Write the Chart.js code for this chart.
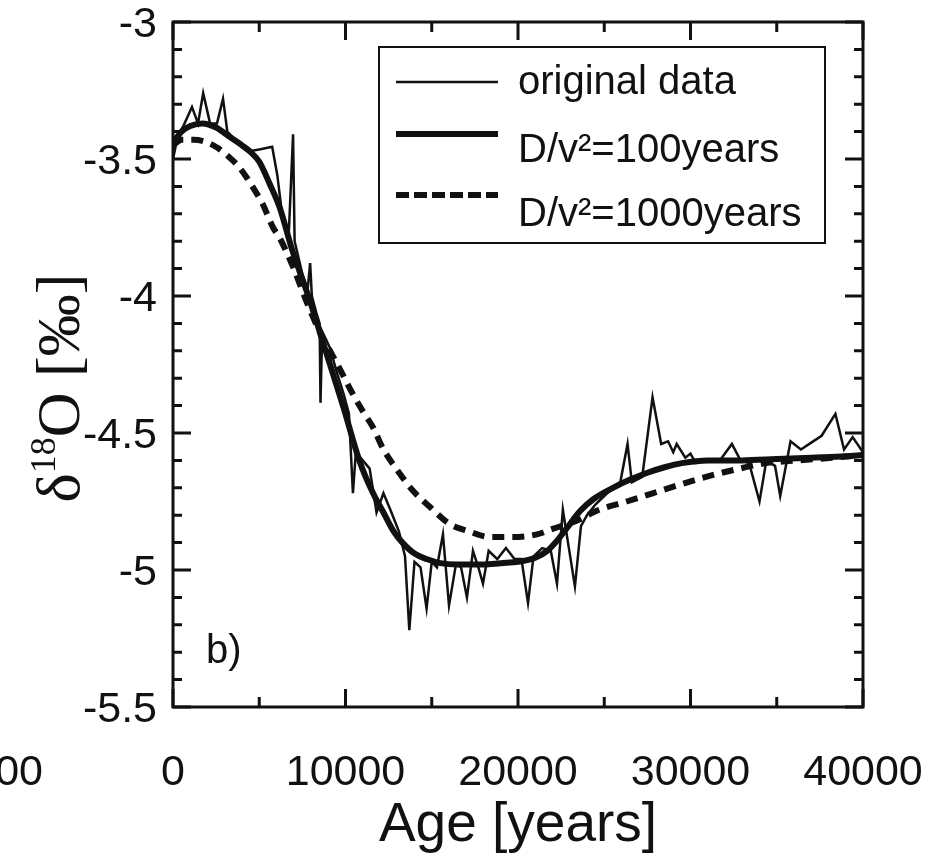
<!DOCTYPE html>
<html>
<head>
<meta charset="utf-8">
<script src="https://cdn.jsdelivr.net/npm/chart.js@4.4.1/dist/chart.umd.min.js"></script>
<style>
  html, body { margin: 0; padding: 0; background: #fff; }
  #wrap { width: 941px; height: 857px; }
</style>
</head>
<body>
<div id="wrap"><canvas id="chart" width="941" height="857"></canvas></div>
<script>
// original data (thin line)
const ageOrig = [0, 300, 600, 1100, 1450, 1750, 2150, 2550, 2900, 3150, 3600, 4100, 4600, 5000, 5750,
  6050, 6300, 6700, 6960, 7050, 7500, 7800, 7950, 8050, 8300, 8500, 8550, 8650, 9100, 9500, 9900,
  10200, 10430, 10600, 11000, 11400, 11800, 12200, 12600, 13100, 13450, 13700, 14000, 14350, 14700,
  15000, 15300, 15650, 16000, 16400, 16700, 17040, 17390, 17700, 17970, 18300, 18800, 19300, 19800,
  20200, 20580, 20900, 21400, 21900, 22260, 22600, 22950, 23300, 23650, 24000, 24500, 25000, 25500,
  25900, 26350, 26600, 27200, 27800, 28300, 28700, 29000, 29200, 29700, 30000, 30300, 31000, 31700,
  32400, 32900, 33400, 34000, 34400, 34900, 35200, 35800, 36400, 37000, 37600, 38400, 38900, 39400, 40000];
const d18Orig = [-3.50, -3.41, -3.38, -3.31, -3.37, -3.26, -3.37, -3.37, -3.28, -3.40, -3.43, -3.45, -3.47, -3.465, -3.455,
  -3.56, -3.69, -3.79, -3.41, -3.80, -3.92, -3.98, -3.88, -4.00, -4.06, -4.10, -4.39, -4.13, -4.19, -4.28, -4.36,
  -4.43, -4.72, -4.57, -4.60, -4.63, -4.79, -4.72, -4.78, -4.86, -4.95, -5.22, -4.97, -4.99, -5.14,
  -4.97, -4.99, -4.87, -5.13, -4.98, -4.99, -5.10, -4.93, -4.99, -5.05, -4.93, -4.96, -4.92, -4.96,
  -4.96, -5.12, -4.95, -4.92, -4.93, -5.05, -4.78, -4.92, -5.06, -4.84, -4.80, -4.76, -4.73, -4.70,
  -4.69, -4.54, -4.68, -4.66, -4.37, -4.54, -4.53, -4.57, -4.54, -4.59, -4.575, -4.61, -4.60, -4.60,
  -4.54, -4.60, -4.61, -4.75, -4.60, -4.62, -4.73, -4.53, -4.56, -4.535, -4.51, -4.43, -4.56, -4.515, -4.57];

// D/v2 = 100 years (thick solid)
const ageD100 = [0, 500, 1000, 1700, 2500, 3300, 4000, 4500, 5000, 5600, 6200, 6900, 7900, 8900, 9900,
  10800, 11600, 12200, 12800, 13300, 14000, 14700, 15500, 16500, 18000, 19000, 20000, 21000, 21700,
  22300, 22800, 23600, 24400, 25500, 26500, 27500, 28500, 29500, 31000, 33000, 35000, 37000, 39000, 40000];
const d18D100 = [-3.44, -3.40, -3.38, -3.37, -3.385, -3.42, -3.45, -3.475, -3.51, -3.59, -3.68, -3.83, -4.01, -4.21, -4.41,
  -4.60, -4.72, -4.79, -4.86, -4.90, -4.94, -4.96, -4.975, -4.98, -4.98, -4.975, -4.97, -4.955, -4.93,
  -4.89, -4.85, -4.785, -4.74, -4.70, -4.67, -4.645, -4.625, -4.61, -4.60, -4.60, -4.595, -4.59, -4.585, -4.58];

// D/v2 = 1000 years (thick dashed)
const ageD1000 = [0, 500, 1200, 2000, 2600, 3200, 3700, 4300, 4600, 5200, 5800, 6200, 7000, 7800, 8500,
  9100, 9700, 10400, 11000, 11600, 12200, 13000, 13900, 14900, 16000, 17200, 18400, 19700, 21100,
  22000, 23400, 24700, 26300, 27800, 29300, 30900, 32500, 34400, 36300, 38300, 40000];
const d18D1000 = [-3.45, -3.43, -3.43, -3.44, -3.46, -3.49, -3.52, -3.57, -3.60, -3.665, -3.75, -3.79, -3.90, -4.03, -4.13,
  -4.20, -4.27, -4.355, -4.42, -4.48, -4.56, -4.635, -4.71, -4.77, -4.83, -4.86, -4.88, -4.88, -4.87,
  -4.85, -4.82, -4.78, -4.75, -4.72, -4.69, -4.66, -4.635, -4.61, -4.60, -4.59, -4.58];

const seriesLabels = ['original data', 'D/v\u00B2=100years', 'D/v\u00B2=1000years'];
const xTicks = [0, 10000, 20000, 30000, 40000];
const yTicks = [-5.5, -5, -4.5, -4, -3.5, -3];

const toPoints = (xs, ys) => xs.map((a, i) => ({ x: a, y: ys[i] }));

Chart.defaults.font.family = "'Liberation Sans', Arial, sans-serif";
Chart.defaults.color = '#111';

// frame + inward ticks on all four sides
const frameTicks = {
  id: 'frameTicks',
  afterDatasetsDraw(chart) {
    const { ctx, chartArea: a, scales: { x, y } } = chart;
    ctx.save();
    ctx.strokeStyle = '#111';
    ctx.lineWidth = 3;
    ctx.strokeRect(a.left, a.top, a.right - a.left, a.bottom - a.top);
    ctx.beginPath();
    for (let v = 0; v <= 40000; v += 5000) {
      const px = x.getPixelForValue(v);
      const len = v % 10000 === 0 ? 18 : 10;
      ctx.moveTo(px, a.bottom); ctx.lineTo(px, a.bottom - len);
      ctx.moveTo(px, a.top); ctx.lineTo(px, a.top + len);
    }
    for (let i = 0; i <= 25; i++) {
      const py = y.getPixelForValue(-5.5 + i * 0.1);
      const len = i % 5 === 0 ? 18 : 9;
      ctx.moveTo(a.left, py); ctx.lineTo(a.left + len, py);
      ctx.moveTo(a.right, py); ctx.lineTo(a.right - len, py);
    }
    ctx.stroke();
    ctx.restore();
  }
};

// boxed legend inside the plot, top right
const boxLegend = {
  id: 'boxLegend',
  afterDraw(chart) {
    const ctx = chart.ctx;
    const rows = [{ ly: 82, ty: 94 }, { ly: 134, ty: 162 }, { ly: 195, ty: 226 }];
    ctx.save();
    ctx.fillStyle = '#fff';
    ctx.fillRect(379, 47, 446, 196);
    ctx.strokeStyle = '#111';
    ctx.lineWidth = 2;
    ctx.strokeRect(379, 47, 446, 196);
    chart.data.datasets.forEach((ds, i) => {
      const r = rows[i];
      ctx.beginPath();
      ctx.lineWidth = ds.borderWidth;
      ctx.setLineDash(ds.borderDash ? [13, 5] : []);
      ctx.moveTo(396, r.ly);
      ctx.lineTo(498, r.ly);
      ctx.stroke();
      ctx.setLineDash([]);
      ctx.fillStyle = '#111';
      ctx.font = "40px 'Liberation Sans', Arial, sans-serif";
      ctx.textAlign = 'left';
      ctx.textBaseline = 'alphabetic';
      ctx.fillText(ds.label, 518, r.ty);
    });
    ctx.restore();
  }
};

// y axis title with superscript, panel tag and clipped neighbour label
const extraText = {
  id: 'extraText',
  afterDraw(chart) {
    const ctx = chart.ctx;
    ctx.save();
    ctx.fillStyle = '#111';
    const big = "62px 'Liberation Serif', 'Times New Roman', serif";
    const small = "36px 'Liberation Serif', 'Times New Roman', serif";
    const parts = [['\u03B4', big, 0], ['18', small, -24], ['O [\u2030]', big, 0]];
    let total = 0;
    parts.forEach(p => { ctx.font = p[1]; total += ctx.measureText(p[0]).width; });
    ctx.translate(79, 388);
    ctx.rotate(-Math.PI / 2);
    ctx.textBaseline = 'alphabetic';
    ctx.textAlign = 'left';
    let cx = -total / 2;
    parts.forEach(p => {
      ctx.font = p[1];
      ctx.fillText(p[0], cx, p[2]);
      cx += ctx.measureText(p[0]).width;
    });
    ctx.setTransform(1, 0, 0, 1, 0, 0);
    ctx.font = "40px 'Liberation Sans', Arial, sans-serif";
    ctx.fillText('b)', 206, 663);
    ctx.font = "43px 'Liberation Sans', Arial, sans-serif";
    ctx.textAlign = 'right';
    ctx.textBaseline = 'middle';
    ctx.fillText('40000', 43, 773);
    ctx.restore();
  }
};

new Chart(document.getElementById('chart'), {
  type: 'line',
  data: {
    datasets: [
      {
        label: seriesLabels[0],
        data: toPoints(ageOrig, d18Orig),
        borderColor: '#111',
        borderWidth: 2.5,
        pointRadius: 0,
        tension: 0
      },
      {
        label: seriesLabels[1],
        data: toPoints(ageD100, d18D100),
        borderColor: '#111',
        borderWidth: 6,
        pointRadius: 0,
        cubicInterpolationMode: 'monotone'
      },
      {
        label: seriesLabels[2],
        data: toPoints(ageD1000, d18D1000),
        borderColor: '#111',
        borderWidth: 6,
        borderDash: [12, 8],
        pointRadius: 0,
        cubicInterpolationMode: 'monotone'
      }
    ]
  },
  options: {
    responsive: false,
    animation: false,
    layout: { padding: { top: 22, right: 78, bottom: 0, left: 0 } },
    plugins: {
      legend: { display: false },
      tooltip: { enabled: false }
    },
    scales: {
      x: {
        type: 'linear',
        min: 0,
        max: 40000,
        // tickLength only spaces the labels; the visible ticks come from frameTicks
        grid: { display: false, drawTicks: true, tickLength: 45 },
        border: { display: false },
        afterBuildTicks: s => { s.ticks = xTicks.map(v => ({ value: v })); },
        afterFit: s => { s.height = 150; },
        ticks: {
          padding: 0,
          maxRotation: 0,
          font: { size: 43, lineHeight: 1 },
          color: '#111',
          callback: v => String(v)
        },
        title: {
          display: true,
          text: 'Age [years]',
          font: { size: 55, lineHeight: 1 },
          color: '#111',
          padding: { top: 0, bottom: 4 }
        }
      },
      y: {
        type: 'linear',
        min: -5.5,
        max: -3,
        grid: { display: false, drawTicks: true, tickLength: 16 },
        border: { display: false },
        afterBuildTicks: s => { s.ticks = yTicks.map(v => ({ value: v })); },
        afterFit: s => { s.width = 173; },
        ticks: {
          padding: 0,
          labelOffset: 3,
          font: { size: 43, lineHeight: 1 },
          color: '#111',
          callback: v => String(v)
        }
      }
    }
  },
  plugins: [frameTicks, boxLegend, extraText]
});
</script>
</body>
</html>
